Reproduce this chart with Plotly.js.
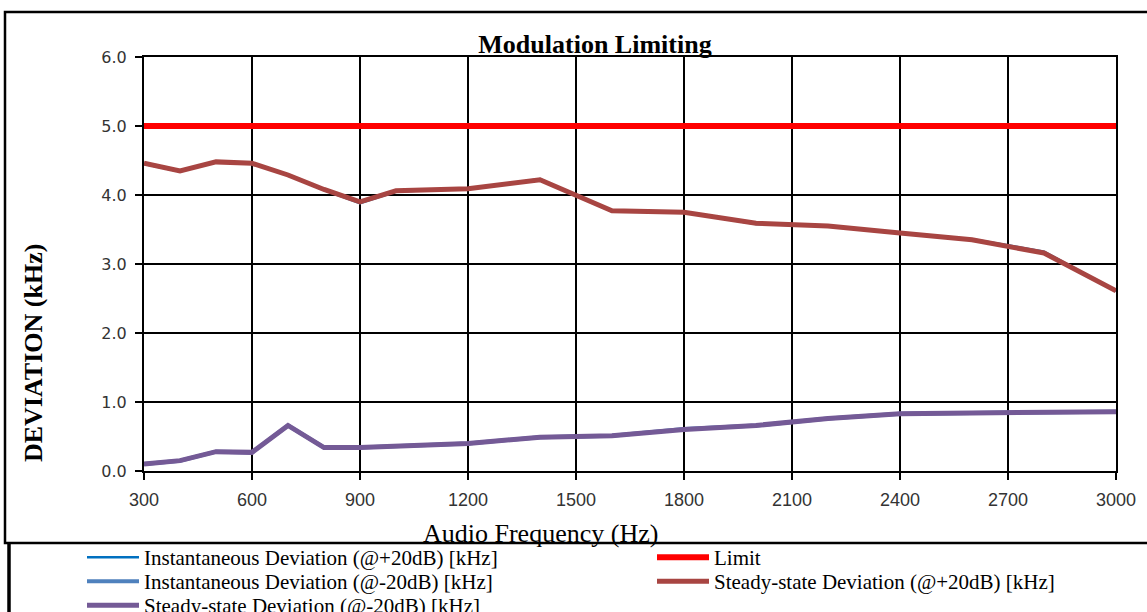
<!DOCTYPE html>
<html>
<head>
<meta charset="utf-8">
<script src="https://cdn.plot.ly/plotly-3.0.1.min.js"></script>
<style>html,body{margin:0;padding:0;background:#fff;}#chart{width:1147px;height:612px;}</style>
</head>
<body>
<div id="chart"></div>
<script>
const freq = [300,400,500,600,700,800,900,1000,1200,1400,1600,1800,2000,2200,2400,2600,2800,3000];
const instPlus20 = [4.45,4.34,4.48,4.46,4.29,4.07,3.88,4.05,4.09,4.23,3.76,3.75,3.58,3.55,3.45,3.36,3.18,2.61];
const instMinus20 = [0.10,0.15,0.28,0.27,0.66,0.34,0.34,0.36,0.40,0.49,0.51,0.61,0.66,0.76,0.83,0.84,0.85,0.86];
const steadyPlus20 = [4.46,4.35,4.48,4.46,4.29,4.08,3.90,4.06,4.09,4.22,3.77,3.75,3.59,3.55,3.45,3.35,3.16,2.61];
const steadyMinus20 = [0.10,0.15,0.28,0.27,0.66,0.34,0.34,0.36,0.40,0.49,0.51,0.60,0.66,0.76,0.83,0.84,0.85,0.86];
const limitFreq = [300,3000];
const limitValue = [5.0,5.0];
const names = ['Instantaneous Deviation (@+20dB) [kHz]','Limit','Instantaneous Deviation (@-20dB) [kHz]','Steady-state Deviation (@+20dB) [kHz]','Steady-state Deviation (@-20dB) [kHz]'];
const xTicks = [300,600,900,1200,1500,1800,2100,2400,2700,3000];

const W=1147,H=612,L=144,R=1116,T=57,B=471;
const px=v=>(v-L)/(R-L), py=v=>(B-v)/(B-T);

const data = [
  {x:freq,y:instPlus20,name:names[0],mode:'lines',line:{color:'#0070C0',width:2.5},legend:'legend'},
  {x:limitFreq,y:limitValue,name:names[1],mode:'lines',line:{color:'#FF0000',width:6},legend:'legend2'},
  {x:freq,y:instMinus20,name:names[2],mode:'lines',line:{color:'#4F81BD',width:4},legend:'legend3'},
  {x:freq,y:steadyPlus20,name:names[3],mode:'lines',line:{color:'#A84542',width:5},legend:'legend4'},
  {x:freq,y:steadyMinus20,name:names[4],mode:'lines',line:{color:'#745A96',width:5},legend:'legend5'}
];

function leg(xp, yp){
  return {orientation:'v',xref:'container',yref:'container',x:xp/W,y:1-yp/H,xanchor:'left',yanchor:'top',
    font:{family:'Liberation Serif',size:21,color:'#000'},bgcolor:'rgba(0,0,0,0)',itemwidth:52,tracegroupgap:0};
}

const layout = {
  width:W,height:H,
  margin:{l:L,r:W-R,t:T,b:H-B,pad:0,autoexpand:false},
  paper_bgcolor:'#fff',plot_bgcolor:'#fff',
  showlegend:true,
  title:{text:'<b>Modulation Limiting</b>',font:{family:'Liberation Serif',size:26,color:'#000'},x:595/W,xref:'container',xanchor:'center',y:1-44/H,yref:'container',yanchor:'middle'},
  xaxis:{range:[300,3000],tickvals:xTicks,ticktext:xTicks.map(String),showgrid:true,gridcolor:'#000',gridwidth:2,showline:true,linecolor:'#000',linewidth:2,mirror:true,ticks:'outside',ticklen:7,tickwidth:2,tickcolor:'#000',ticklabelstandoff:4,tickangle:0,automargin:false,tickfont:{family:'Liberation Sans',size:18,color:'#333'},zeroline:false,fixedrange:true},
  yaxis:{range:[0,6],dtick:1,tickformat:'.1f',showgrid:true,gridcolor:'#000',gridwidth:2,showline:true,linecolor:'#000',linewidth:2,mirror:true,ticks:'outside',ticklen:7,tickwidth:2,tickcolor:'#000',ticklabelstandoff:5,automargin:false,tickfont:{family:'DejaVu Sans',size:16,color:'#333'},zeroline:false,fixedrange:true},
  legend:leg(82,537),
  legend2:leg(652,537),
  legend3:leg(82,561),
  legend4:leg(652,561),
  legend5:leg(82,585),
  annotations:[
    {text:'Audio Frequency (Hz)',xref:'paper',yref:'paper',x:px(540),y:py(533),xanchor:'center',yanchor:'middle',showarrow:false,font:{family:'Liberation Serif',size:26,color:'#000'}},
    {text:'<b>DEVIATION (kHz)</b>',xref:'paper',yref:'paper',x:px(33),y:py(353),xanchor:'center',yanchor:'middle',textangle:-90,showarrow:false,font:{family:'Liberation Serif',size:26,color:'#000'}}
  ],
  shapes:[
    {type:'rect',xref:'paper',yref:'paper',x0:px(5),x1:px(1160),y0:py(543),y1:py(12),line:{color:'#000',width:2.5},layer:'below'},
    {type:'line',xref:'paper',yref:'paper',x0:px(9),x1:px(9),y0:py(543),y1:py(620),line:{color:'#000',width:3.5}}
  ]
};
Plotly.newPlot('chart',data,layout,{displayModeBar:false,staticPlot:true});
</script>
</body>
</html>
